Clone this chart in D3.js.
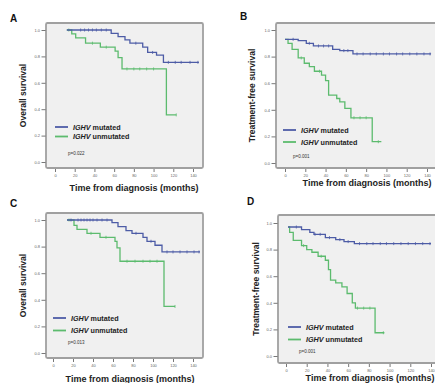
<!DOCTYPE html>
<html>
<head>
<meta charset="utf-8">
<script src="https://cdn.jsdelivr.net/npm/d3@7"></script>
<style>
  body { margin: 0; background: #fff; }
  svg { display: block; font-family: Arial, "Liberation Sans", sans-serif; }
</style>
</head>
<body>
<svg id="chart" width="435" height="383"></svg>
<script>
// ticks
const xTicks = [0, 20, 40, 60, 80, 100, 120, 140];
const yTicks = [0, 0.2, 0.4, 0.6, 0.8, 1.0];

// A - overall survival (months, survival)
const osMutA = [[12, 1.0], [57, 0.975], [64, 0.95], [71, 0.925], [76, 0.9], [89, 0.87], [94, 0.83], [103, 0.81], [110, 0.755], [146, 0.755]];
const osUnmA = [[12, 1.0], [17, 0.97], [21, 0.94], [31, 0.9], [46, 0.87], [61, 0.84], [64, 0.79], [68, 0.705], [113, 0.357], [123, 0.357]];
const censMutA = [26, 30, 34, 38, 42, 47, 52, 82, 99, 115, 122, 128, 137, 145];
const censUnmA = [14, 38, 52, 73, 80, 86, 93, 100, 123];

// B - treatment-free survival
const tfsMutB = [[0, 0.93], [13, 0.92], [21, 0.9], [28, 0.88], [47, 0.855], [54, 0.845], [67, 0.82], [144, 0.82]];
const tfsUnmB = [[0, 0.93], [3, 0.9], [7, 0.855], [13, 0.79], [19, 0.75], [24, 0.725], [29, 0.69], [36, 0.66], [40, 0.62], [43, 0.51], [51, 0.485], [54, 0.46], [59, 0.41], [65, 0.34], [86, 0.16], [95, 0.16]];
const censMutB = [8, 24, 33, 38, 43, 58, 62, 71, 77, 84, 90, 97, 103, 110, 116, 123, 130, 137, 143];
const censUnmB = [16, 34, 68, 74, 80, 92];

// C - overall survival
const osMutC = [[14, 1.0], [59, 0.98], [65, 0.95], [73, 0.92], [79, 0.9], [90, 0.87], [94, 0.84], [102, 0.81], [109, 0.76], [147, 0.76]];
const osUnmC = [[14, 1.0], [21, 0.96], [24, 0.93], [34, 0.9], [47, 0.87], [62, 0.84], [64, 0.79], [67, 0.69], [111, 0.35], [122, 0.35]];
const censMutC = [18, 25, 28, 31, 34, 37, 40, 44, 49, 54, 83, 98, 114, 120, 127, 134, 141, 146];
const censUnmC = [16, 38, 53, 74, 82, 90, 97, 104, 122];

// D - treatment-free survival
const tfsMutD = [[2, 0.97], [15, 0.95], [23, 0.93], [27, 0.915], [38, 0.89], [48, 0.875], [56, 0.86], [66, 0.845], [140, 0.845]];
const tfsUnmD = [[2, 0.97], [3.5, 0.93], [7, 0.87], [15, 0.83], [20, 0.8], [25, 0.78], [31, 0.75], [38, 0.72], [41, 0.65], [43, 0.57], [48, 0.55], [54, 0.52], [59, 0.47], [64, 0.4], [67, 0.36], [86, 0.175], [95, 0.175]];
const censMutD = [10, 28, 33, 42, 52, 60, 71, 78, 84, 91, 97, 104, 111, 118, 125, 132, 139];
const censUnmD = [17, 34, 69, 75, 81, 94];

const blue = '#4d5ca6';
const green = '#5cbb6e';

const panels = [
  { label: 'A', yTitle: 'Overall survival', p: 'p=0.022', mut: osMutA, unm: osUnmA, cMut: censMutA, cUnm: censUnmA,
    box: [46, 203, 23, 168], xr: [55, 193], yr: [162, 30], lab: [10, 22],
    leg: [55, 127, 9.5], pPos: [68, 155], yTx: 23, xT: [134, 191] },
  { label: 'B', yTitle: 'Treatment-free survival', p: 'p=0.001', mut: tfsMutB, unm: tfsUnmB, cMut: censMutB, cUnm: censUnmB,
    box: [276, 450, 23, 168], xr: [285, 427], yr: [163, 30], lab: [240, 20],
    leg: [283, 130, 12], pPos: [293, 158], yTx: 252, xT: [367, 186] },
  { label: 'C', yTitle: 'Overall survival', p: 'p=0.013', mut: osMutC, unm: osUnmC, cMut: censMutC, cUnm: censUnmC,
    box: [46, 203, 213, 358], xr: [53, 193], yr: [353, 220], lab: [10, 207],
    leg: [53, 318, 12.5], pPos: [68, 344], yTx: 23, xT: [130, 382] },
  { label: 'D', yTitle: 'Treatment-free survival', p: 'p=0.001', mut: tfsMutD, unm: tfsUnmD, cMut: censMutD, cUnm: censUnmD,
    box: [278, 450, 215, 363], xr: [286, 431], yr: [356, 223], lab: [247, 205],
    leg: [288, 327, 12.5], pPos: [299, 353], yTx: 256, xT: [370, 381] }
];

const svg = d3.select('#chart');

// survival value at time t on a step curve
function stepAt(curve, t) {
  let s = curve[0][1];
  curve.forEach(d => { if (d[0] <= t) s = d[1]; });
  return s;
}

panels.forEach(pn => {
  const g = svg.append('g');
  const [bx0, bx1, by0, by1] = pn.box;
  const x = d3.scaleLinear().domain([0, 140]).range(pn.xr);
  const y = d3.scaleLinear().domain([0, 1]).range(pn.yr);

  g.append('rect')
    .attr('x', bx0).attr('y', by0)
    .attr('width', bx1 - bx0).attr('height', by1 - by0)
    .attr('rx', 1.5)
    .attr('fill', '#f0f0f0')
    .attr('stroke', '#a0a0a0')
    .attr('stroke-width', 1.8);

  // y axis on box left edge
  const yAxis = d3.axisLeft(y).tickValues(yTicks).tickFormat(d3.format('.1f')).tickSize(4).tickPadding(1.5);
  const ya = g.append('g').attr('transform', 'translate(' + (bx0 - 0.5) + ',0)').call(yAxis);
  // x axis below box
  const xAxis = d3.axisBottom(x).tickValues(xTicks).tickFormat(d3.format('d')).tickSize(3).tickPadding(2);
  const xa = g.append('g').attr('transform', 'translate(0,' + (by1 + 1) + ')').call(xAxis);
  [ya, xa].forEach(a => {
    a.select('.domain').remove();
    a.selectAll('.tick line').attr('stroke', '#555').attr('stroke-width', 0.8);
    a.selectAll('.tick text').attr('fill', '#666').style('font-size', '4px');
  });

  const line = d3.line().x(d => x(d[0])).y(d => y(d[1])).curve(d3.curveStepAfter);
  [[pn.unm, pn.cUnm, green], [pn.mut, pn.cMut, blue]].forEach(([curve, cens, col]) => {
    g.append('path')
      .datum(curve)
      .attr('d', line)
      .attr('fill', 'none')
      .attr('stroke', col)
      .attr('stroke-width', 1.3);
    g.selectAll(null)
      .data(cens)
      .join('line')
      .attr('x1', d => x(d)).attr('x2', d => x(d))
      .attr('y1', d => y(stepAt(curve, d)) - 1.5)
      .attr('y2', d => y(stepAt(curve, d)) + 1.5)
      .attr('stroke', col)
      .attr('stroke-width', 0.8);
  });

  // legend
  const [lx, ly, ldy] = pn.leg;
  [[blue, 'mutated'], [green, 'unmutated']].forEach(([col, word], i) => {
    const yy = ly + i * ldy;
    g.append('line')
      .attr('x1', lx).attr('x2', lx + 13)
      .attr('y1', yy).attr('y2', yy)
      .attr('stroke', col).attr('stroke-width', 1.8);
    const t = g.append('text')
      .attr('x', lx + 18).attr('y', yy + 2.5)
      .style('font-size', '7.2px').style('font-weight', 'bold')
      .attr('fill', '#222');
    t.append('tspan').style('font-style', 'italic').text('IGHV');
    t.append('tspan').text(' ' + word);
  });
  g.append('text')
    .attr('x', pn.pPos[0]).attr('y', pn.pPos[1])
    .style('font-size', '4.5px').attr('fill', '#333')
    .text(pn.p);

  // titles
  g.append('text')
    .attr('transform', 'translate(' + pn.yTx + ',' + ((by0 + by1) / 2) + ') rotate(-90)')
    .attr('text-anchor', 'middle')
    .attr('dy', '0.35em')
    .style('font-size', '8.5px').style('font-weight', 'bold')
    .attr('fill', '#222')
    .text(pn.yTitle);
  g.append('text')
    .attr('x', pn.xT[0]).attr('y', pn.xT[1])
    .attr('text-anchor', 'middle')
    .style('font-size', '9px').style('font-weight', 'bold')
    .attr('fill', '#222')
    .text('Time from diagnosis (months)');
  g.append('text')
    .attr('x', pn.lab[0]).attr('y', pn.lab[1])
    .style('font-size', '10px').style('font-weight', 'bold')
    .attr('fill', '#111')
    .text(pn.label);
});
</script>
</body>
</html>
